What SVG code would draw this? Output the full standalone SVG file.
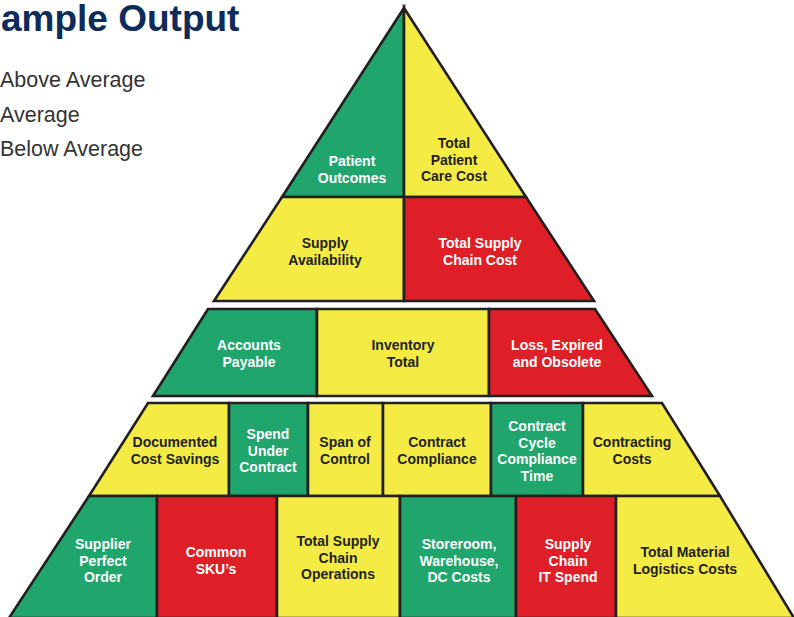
<svg xmlns="http://www.w3.org/2000/svg" width="794" height="617" viewBox="0 0 794 617">
<style>
.g{fill:#20a56d}
.y{fill:#f4eb45}
.r{fill:#de1f27}
.cell polygon{stroke:#231f20;stroke-width:2.6;stroke-linejoin:miter}
text.l{font-family:"Liberation Sans",Arial,sans-serif;font-weight:bold;font-size:14px;text-anchor:middle}
.w{fill:#ffffff}
.d{fill:#231f20}
.leg{font-family:"Liberation Sans",Arial,sans-serif;font-size:21.5px;fill:#333333}
</style>
<rect x="0" y="0" width="794" height="617" fill="#ffffff"/>
<text x="1" y="31" font-family="Liberation Sans, Arial, sans-serif" font-weight="bold" font-size="37" fill="#0d2b5b">ample Output</text>
<text class="leg" x="0" y="87">Above Average</text>
<text class="leg" x="0" y="122">Average</text>
<text class="leg" x="0" y="156">Below Average</text>

<!-- Tier 1 -->
<g id="patient-outcomes" class="cell"><polygon class="g" points="404,8 404,197 282,197"/><text class="l w" x="352" y="166">Patient</text><text class="l w" x="352" y="183">Outcomes</text></g>
<g id="total-patient-care-cost" class="cell"><polygon class="y" points="404,8 526,197 404,197"/><text class="l d" x="454" y="148">Total</text><text class="l d" x="454" y="164.5">Patient</text><text class="l d" x="454" y="181">Care Cost</text></g>

<!-- Tier 2 -->
<g id="supply-availability" class="cell"><polygon class="y" points="282,197 404,197 404,301 214,301"/><text class="l d" x="325" y="248">Supply</text><text class="l d" x="325" y="265">Availability</text></g>
<g id="total-supply-chain-cost" class="cell"><polygon class="r" points="404,197 526,197 594,301 404,301"/><text class="l w" x="480" y="248">Total Supply</text><text class="l w" x="480" y="265">Chain Cost</text></g>

<!-- Tier 3 -->
<g id="accounts-payable" class="cell"><polygon class="g" points="208,309 317,309 317,396 153,396"/><text class="l w" x="249" y="350">Accounts</text><text class="l w" x="249" y="367">Payable</text></g>
<g id="inventory-total" class="cell"><polygon class="y" points="317,309 489,309 489,396 317,396"/><text class="l d" x="403" y="350">Inventory</text><text class="l d" x="403" y="367">Total</text></g>
<g id="loss-expired-obsolete" class="cell"><polygon class="r" points="489,309 595,309 652,396 489,396"/><text class="l w" x="557" y="350">Loss, Expired</text><text class="l w" x="557" y="367">and Obsolete</text></g>

<!-- Tier 4 -->
<g id="documented-cost-savings" class="cell"><polygon class="y" points="148,403 229,403 229,496 89,496"/><text class="l d" x="175" y="447">Documented</text><text class="l d" x="175" y="464">Cost Savings</text></g>
<g id="spend-under-contract" class="cell"><polygon class="g" points="229,403 308,403 308,496 229,496"/><text class="l w" x="268" y="439">Spend</text><text class="l w" x="268" y="455.5">Under</text><text class="l w" x="268" y="472">Contract</text></g>
<g id="span-of-control" class="cell"><polygon class="y" points="308,403 383,403 383,496 308,496"/><text class="l d" x="345" y="447">Span of</text><text class="l d" x="345" y="464">Control</text></g>
<g id="contract-compliance" class="cell"><polygon class="y" points="383,403 491,403 491,496 383,496"/><text class="l d" x="437" y="447">Contract</text><text class="l d" x="437" y="464">Compliance</text></g>
<g id="contract-cycle-compliance-time" class="cell"><polygon class="g" points="491,403 583,403 583,496 491,496"/><text class="l w" x="537" y="431">Contract</text><text class="l w" x="537" y="447.5">Cycle</text><text class="l w" x="537" y="464">Compliance</text><text class="l w" x="537" y="480.5">Time</text></g>
<g id="contracting-costs" class="cell"><polygon class="y" points="583,403 662,403 720,496 583,496"/><text class="l d" x="632" y="447">Contracting</text><text class="l d" x="632" y="464">Costs</text></g>

<!-- Tier 5 -->
<g id="supplier-perfect-order" class="cell"><polygon class="g" points="89,496 157,496 157,618 9,618"/><text class="l w" x="103" y="549">Supplier</text><text class="l w" x="103" y="565.5">Perfect</text><text class="l w" x="103" y="582">Order</text></g>
<g id="common-skus" class="cell"><polygon class="r" points="157,496 277,496 277,618 157,618"/><text class="l w" x="216" y="557">Common</text><text class="l w" x="216" y="573.5">SKU’s</text></g>
<g id="total-supply-chain-operations" class="cell"><polygon class="y" points="277,496 400,496 400,618 277,618"/><text class="l d" x="338" y="546">Total Supply</text><text class="l d" x="338" y="562.5">Chain</text><text class="l d" x="338" y="579">Operations</text></g>
<g id="storeroom-warehouse-dc-costs" class="cell"><polygon class="g" points="400,496 516,496 516,618 400,618"/><text class="l w" x="459" y="549">Storeroom,</text><text class="l w" x="459" y="565.5">Warehouse,</text><text class="l w" x="459" y="582">DC Costs</text></g>
<g id="supply-chain-it-spend" class="cell"><polygon class="r" points="516,496 616,496 616,618 516,618"/><text class="l w" x="568" y="549">Supply</text><text class="l w" x="568" y="565.5">Chain</text><text class="l w" x="568" y="582">IT Spend</text></g>
<g id="total-material-logistics-costs" class="cell"><polygon class="y" points="616,496 720,496 794,618 616,618"/><text class="l d" x="685" y="557">Total Material</text><text class="l d" x="685" y="573.5">Logistics Costs</text></g>
</svg>
